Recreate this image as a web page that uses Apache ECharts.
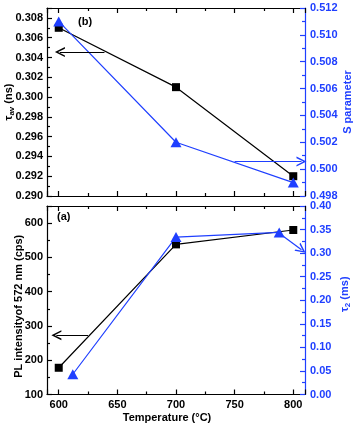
<!DOCTYPE html>
<html>
<head>
<meta charset="utf-8">
<script src="https://cdn.jsdelivr.net/npm/echarts@6/dist/echarts.min.js"></script>
<style>
  html, body { margin: 0; padding: 0; background: #fff; }
  #chart { width: 354px; height: 426px; }
</style>
</head>
<body>
<div id="chart"></div>
<script>
// panel (b): positron lifetime / S parameter
const tempTop = [600, 700, 800];
const tauAv = [0.307, 0.301, 0.292];
const sParam = [0.511, 0.502, 0.499];
// panel (a): PL intensity / tau2
const tempPL = [600, 700, 800];
const plIntensity = [178, 538, 580];
const tempTau2 = [612, 700, 788];
const tau2 = [0.043, 0.334, 0.344];

const BLUE = "#1f3fff";
const FONT = "Liberation Sans";
// thin open arrow head (points up, ECharts rotates it along the line)
const HEAD = "path://M0,10 L5,0 L10,10 L8.4,10 L5,3.2 L1.6,10 Z";

const zip = (xs, ys) => xs.map((x, i) => [x, ys[i]]);

function arrow(from, to, color) {
  return {
    silent: true,
    symbol: ["none", HEAD],
    symbolSize: [10, 10],
    label: { show: false },
    lineStyle: { color: color, width: 1.2, type: "solid" },
    emphasis: { disabled: true },
    data: [[{ coord: from }, { coord: to }]]
  };
}

const tick = { inside: true, length: 5, lineStyle: { width: 1.2 } };
const minor = { show: true, splitNumber: 2, length: 3, lineStyle: { width: 1.2 } };
const labelStyle = { fontFamily: FONT, fontWeight: "bold", fontSize: 11, color: "#000" };

// x range 590..810, nice ticks every 50 (600..800)
function xAx(grid, pos, withLabels) {
  return {
    type: "value", gridIndex: grid, position: pos,
    min: 590, max: 810, splitNumber: 4,
    axisLine: { show: true, lineStyle: { color: "#000", width: 1.2 } },
    axisTick: tick, minorTick: minor,
    splitLine: { show: false },
    axisLabel: withLabels
      ? Object.assign({ margin: 5, showMaxLabel: false, showMinLabel: false }, labelStyle)
      : { show: false }
  };
}

let chart = echarts.init(document.getElementById("chart"));
chart.setOption({
  animation: false,
  grid: [
    { left: 47, right: 49, top: 8, height: 188, containLabel: false, outerBoundsMode: "none" },
    { left: 47, right: 49, top: 206, height: 188.5, containLabel: false, outerBoundsMode: "none" }
  ],
  xAxis: [
    xAx(0, "bottom", false),
    xAx(0, "top", false),
    Object.assign(xAx(1, "bottom", true), {
      name: "Temperature (°C)",
      nameLocation: "middle", nameMoveOverlap: false,
      nameGap: 18,
      nameTextStyle: { fontFamily: FONT, fontWeight: "bold", fontSize: 11, color: "#000", padding: [0, 18, 0, 0] }
    }),
    xAx(1, "top", false)
  ],
  yAxis: [
    {
      type: "value", gridIndex: 0, position: "left",
      min: 0.290, max: 0.309, interval: 0.002,
      axisLine: { show: true, lineStyle: { color: "#000", width: 1.2 } },
      axisTick: tick, minorTick: minor, splitLine: { show: false },
      axisLabel: Object.assign({ margin: 4, showMaxLabel: false, formatter: v => v.toFixed(3) }, labelStyle),
      name: "{a|τ}{b|av}{a| (ns)}",
      nameLocation: "middle", nameRotate: 90, nameGap: 31, nameMoveOverlap: false,
      nameTextStyle: {
        rich: {
          a: { fontFamily: FONT, fontWeight: "bold", fontSize: 11, color: "#000" },
          b: { fontFamily: FONT, fontWeight: "bold", fontSize: 8, color: "#000", verticalAlign: "bottom", padding: [6, 0, 0, 0] }
        }
      }
    },
    {
      type: "value", gridIndex: 0, position: "right",
      min: 0.498, max: 0.512, interval: 0.002,
      axisLine: { show: true, lineStyle: { color: BLUE, width: 1.2 } },
      axisTick: tick, minorTick: minor, splitLine: { show: false },
      axisLabel: Object.assign({}, labelStyle, { margin: 5, color: BLUE, formatter: v => v.toFixed(3) }),
      name: "S parameter",
      nameLocation: "middle", nameRotate: 90, nameGap: 37, nameMoveOverlap: false,
      nameTextStyle: { fontFamily: FONT, fontWeight: "bold", fontSize: 11, color: BLUE }
    },
    {
      type: "value", gridIndex: 1, position: "left",
      min: 100, max: 650, interval: 100,
      axisLine: { show: true, lineStyle: { color: "#000", width: 1.2 } },
      axisTick: tick, minorTick: minor, splitLine: { show: false },
      axisLabel: Object.assign({ margin: 4, showMaxLabel: false }, labelStyle),
      name: "PL intensityof 572 nm (cps)",
      nameLocation: "middle", nameRotate: 90, nameGap: 23, nameMoveOverlap: false,
      nameTextStyle: { fontFamily: FONT, fontWeight: "bold", fontSize: 11, color: "#000", padding: [0, 12, 0, 0] }
    },
    {
      type: "value", gridIndex: 1, position: "right",
      min: 0, max: 0.40, interval: 0.05,
      axisLine: { show: true, lineStyle: { color: BLUE, width: 1.2 } },
      axisTick: tick, minorTick: minor, splitLine: { show: false },
      axisLabel: Object.assign({}, labelStyle, { margin: 5, color: BLUE, formatter: v => v.toFixed(2) }),
      name: "{a|τ}{b|2}{a| (ms)}",
      nameLocation: "middle", nameRotate: 90, nameGap: 33, nameMoveOverlap: false,
      nameTextStyle: {
        padding: [0, 0, 0, 12],
        rich: {
          a: { fontFamily: FONT, fontWeight: "bold", fontSize: 11, color: BLUE },
          b: { fontFamily: FONT, fontWeight: "bold", fontSize: 8, color: BLUE, verticalAlign: "bottom", padding: [6, 0, 0, 0] }
        }
      }
    }
  ],
  graphic: [
    { type: "text", left: 78, top: 16, style: { text: "(b)", font: "bold 11px " + FONT, fill: "#000" } },
    { type: "text", left: 57, top: 211, style: { text: "(a)", font: "bold 11px " + FONT, fill: "#000" } }
  ],
  series: [
    {
      type: "line", xAxisIndex: 0, yAxisIndex: 0,
      data: zip(tempTop, tauAv),
      symbol: "rect", symbolSize: 8,
      lineStyle: { color: "#000", width: 1.2 }, itemStyle: { color: "#000" },
      markLine: arrow([639, 0.30455], [601, 0.30455], "#000")
    },
    {
      type: "line", xAxisIndex: 0, yAxisIndex: 1,
      data: zip(tempTop, sParam),
      symbol: "triangle", symbolSize: [11, 10],
      lineStyle: { color: BLUE, width: 1.2 }, itemStyle: { color: BLUE },
      markLine: arrow([750, 0.50056], [807, 0.50056], BLUE)
    },
    {
      type: "line", xAxisIndex: 2, yAxisIndex: 2,
      data: zip(tempPL, plIntensity),
      symbol: "rect", symbolSize: 8,
      lineStyle: { color: "#000", width: 1.2 }, itemStyle: { color: "#000" },
      markLine: arrow([625, 273], [598, 273], "#000")
    },
    {
      type: "line", xAxisIndex: 2, yAxisIndex: 3,
      data: zip(tempTau2, tau2),
      symbol: "triangle", symbolSize: [11, 10],
      lineStyle: { color: BLUE, width: 1.2 }, itemStyle: { color: BLUE },
      markLine: arrow([788, 0.342], [807, 0.307], BLUE)
    }
  ]
});
</script>
</body>
</html>
